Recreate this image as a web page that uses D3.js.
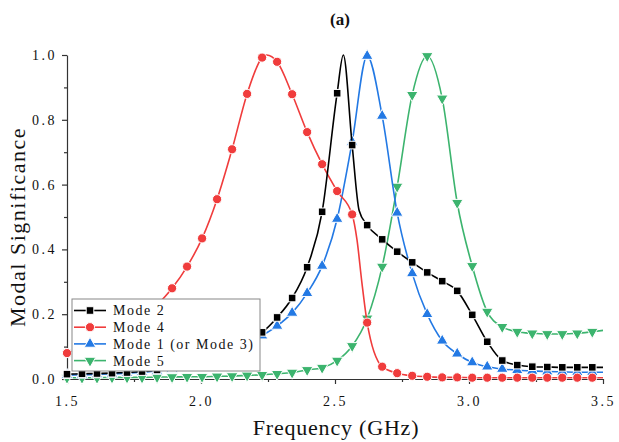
<!DOCTYPE html>
<html>
<head>
<meta charset="utf-8">
<script src="https://cdn.jsdelivr.net/npm/d3@7"></script>
<style>
  body { margin: 0; background: #fff; }
  text { fill: #111; }
</style>
</head>
<body>
<div id="chart"></div>
<script>
(function () {

  // marker frequencies (GHz), one symbol every 0.056 GHz
  const freq = [1.500, 1.556, 1.612, 1.668, 1.724, 1.780, 1.836, 1.892, 1.948, 2.004,
                2.060, 2.116, 2.172, 2.228, 2.284, 2.340, 2.396, 2.452, 2.508, 2.564,
                2.620, 2.676, 2.732, 2.788, 2.844, 2.900, 2.956, 3.012, 3.068, 3.124,
                3.180, 3.236, 3.292, 3.348, 3.404, 3.460];

  const mode2 = [0.015, 0.016, 0.017, 0.018, 0.020, 0.023, 0.028, 0.035, 0.045, 0.058,
                 0.075, 0.095, 0.118, 0.144, 0.190, 0.250, 0.345, 0.516, 0.882, 0.722,
                 0.475, 0.431, 0.393, 0.360, 0.329, 0.302, 0.272, 0.198, 0.115, 0.057,
                 0.043, 0.038, 0.037, 0.036, 0.036, 0.036];
  const mode4 = [0.080, 0.095, 0.110, 0.130, 0.155, 0.185, 0.228, 0.280, 0.347, 0.434,
                 0.555, 0.709, 0.880, 0.992, 0.979, 0.879, 0.762, 0.663, 0.580, 0.508,
                 0.174, 0.038, 0.018, 0.010, 0.007, 0.005, 0.005, 0.004, 0.004, 0.004,
                 0.004, 0.004, 0.004, 0.004, 0.004, 0.004];
  const mode1 = [0.012, 0.013, 0.014, 0.016, 0.018, 0.021, 0.025, 0.031, 0.039, 0.049,
                 0.062, 0.080, 0.104, 0.134, 0.164, 0.204, 0.265, 0.349, 0.494, 0.732,
                 0.997, 0.812, 0.513, 0.326, 0.200, 0.118, 0.078, 0.051, 0.038, 0.031,
                 0.027, 0.025, 0.023, 0.022, 0.021, 0.021];
  const mode5 = [0.004, 0.004, 0.004, 0.005, 0.005, 0.005, 0.006, 0.006, 0.007, 0.007,
                 0.008, 0.009, 0.011, 0.013, 0.016, 0.020, 0.028, 0.035, 0.057, 0.102,
                 0.187, 0.347, 0.594, 0.877, 0.997, 0.866, 0.544, 0.349, 0.208, 0.161,
                 0.146, 0.141, 0.139, 0.139, 0.141, 0.146];

  // extra curve-only points (peaks between symbols, knees, end of sweep)
  const mode2Extra = [[2.531, 1.0], [2.590, 0.52], [3.5, 0.036]];
  const mode4Extra = [[2.245, 1.0], [2.582, 0.43], [2.600, 0.30], [3.5, 0.004]];
  const mode1Extra = [[3.5, 0.021]];
  const mode5Extra = [[3.5, 0.150]];

  const xTicks = [1.5, 2.0, 2.5, 3.0, 3.5];
  const xMinor = [1.75, 2.25, 2.75, 3.25];
  const yTicks = [0.0, 0.2, 0.4, 0.6, 0.8, 1.0];
  const yMinor = [0.1, 0.3, 0.5, 0.7, 0.9];

  const series = [
    { name: "Mode 5", values: mode5, extra: mode5Extra, color: "#3cb46e", symbol: "down" },
    { name: "Mode 1 (or Mode 3)", values: mode1, extra: mode1Extra, color: "#2379e4", symbol: "up" },
    { name: "Mode 4", values: mode4, extra: mode4Extra, color: "#f03c3c", symbol: "circle" },
    { name: "Mode 2", values: mode2, extra: mode2Extra, color: "#000000", symbol: "square" }
  ];
  const legendOrder = ["Mode 2", "Mode 4", "Mode 1 (or Mode 3)", "Mode 5"];

  const W = 619, H = 442;
  const margin = { top: 55, right: 16, bottom: 63, left: 67 };

  const svg = d3.select("#chart").append("svg")
      .attr("width", W)
      .attr("height", H);

  const x = d3.scaleLinear().domain([1.5, 3.5]).range([margin.left, W - margin.right]);
  const y = d3.scaleLinear().domain([0, 1]).range([H - margin.bottom, margin.top]);

  const serif = "Liberation Serif, Times New Roman, serif";

  // title
  svg.append("text")
      .attr("x", 340).attr("y", 25)
      .attr("text-anchor", "middle")
      .style("font-family", serif)
      .style("font-weight", "bold")
      .style("font-size", "17px")
      .text("(a)");

  // axes
  svg.append("g")
      .attr("transform", "translate(0," + y(0) + ")")
      .call(d3.axisBottom(x).tickValues(xTicks).tickFormat(d3.format(".1f"))
        .tickSize(5).tickPadding(12).tickSizeOuter(0));
  svg.append("g")
      .attr("transform", "translate(0," + y(0) + ")")
      .call(d3.axisBottom(x).tickValues(xMinor).tickFormat("").tickSize(3).tickSizeOuter(0))
      .select(".domain").remove();

  svg.append("g")
      .attr("transform", "translate(" + x(1.5) + ",0)")
      .call(d3.axisLeft(y).tickValues(yTicks).tickFormat(d3.format(".1f"))
        .tickSize(5).tickPadding(5).tickSizeOuter(0));
  svg.append("g")
      .attr("transform", "translate(" + x(1.5) + ",0)")
      .call(d3.axisLeft(y).tickValues(yMinor).tickFormat("").tickSize(3).tickSizeOuter(0))
      .select(".domain").remove();

  svg.selectAll(".tick text")
      .style("font-family", serif)
      .style("font-size", "14px")
      .style("letter-spacing", "2.5px")
      .style("fill", "#111");
  svg.selectAll(".domain, .tick line")
      .attr("stroke", "#333")
      .attr("stroke-width", 1.2);

  // axis titles
  svg.append("text")
      .attr("x", 336).attr("y", 435)
      .attr("text-anchor", "middle")
      .style("font-family", serif)
      .style("font-size", "22px")
      .style("letter-spacing", "0.8px")
      .text("Frequency (GHz)");
  svg.append("text")
      .attr("transform", "translate(25,227) rotate(-90)")
      .attr("text-anchor", "middle")
      .style("font-family", serif)
      .style("font-size", "22px")
      .style("letter-spacing", "1.5px")
      .text("Modal Significance");

  const line = d3.line()
      .x(d => x(d[0]))
      .y(d => y(d[1]))
      .curve(d3.curveMonotoneX);

  function drawSymbol (g, kind, color) {
    if (kind === "square") {
      g.append("rect").attr("x", -3.8).attr("y", -3.8).attr("width", 7.6).attr("height", 7.6);
    } else if (kind === "circle") {
      g.append("circle").attr("r", 4.6);
    } else {
      g.append("path")
        .attr("d", d3.symbol().type(d3.symbolTriangle).size(58)())
        .attr("transform", kind === "down" ? "rotate(180)" : null);
    }
    g.selectAll("*")
      .attr("fill", color)
      .attr("stroke", "#fff")
      .attr("stroke-width", 1);
  }

  series.forEach(s => {
    const pts = freq.map((f, i) => [f, s.values[i]]).concat(s.extra)
      .sort((a, b) => a[0] - b[0]);
    svg.append("path")
      .datum(pts)
      .attr("fill", "none")
      .attr("stroke", s.color)
      .attr("stroke-width", 1.6)
      .attr("d", line);
    svg.append("g").selectAll("g")
      .data(freq.map((f, i) => [f, s.values[i]]))
      .enter().append("g")
        .attr("transform", d => "translate(" + x(d[0]) + "," + y(d[1]) + ")")
        .each(function () { drawSymbol(d3.select(this), s.symbol, s.color); });
  });

  // legend
  const lg = svg.append("g").attr("transform", "translate(72,299)");
  lg.append("rect")
      .attr("width", 188).attr("height", 72)
      .attr("fill", "#fff")
      .attr("stroke", "#888")
      .attr("stroke-width", 1);
  legendOrder.forEach((name, i) => {
    const s = series.find(d => d.name === name);
    const row = lg.append("g").attr("transform", "translate(0," + (11.5 + i * 16.7) + ")");
    row.append("line")
        .attr("x1", 2).attr("x2", 34)
        .attr("stroke", s.color).attr("stroke-width", 1.6);
    drawSymbol(row.append("g").attr("transform", "translate(18,0)"), s.symbol, s.color);
    row.append("text")
        .attr("x", 41).attr("dy", "0.35em")
        .style("font-family", serif)
        .style("font-size", "14px")
        .style("letter-spacing", "1.5px")
        .text(name);
  });

})();
</script>
</body>
</html>
